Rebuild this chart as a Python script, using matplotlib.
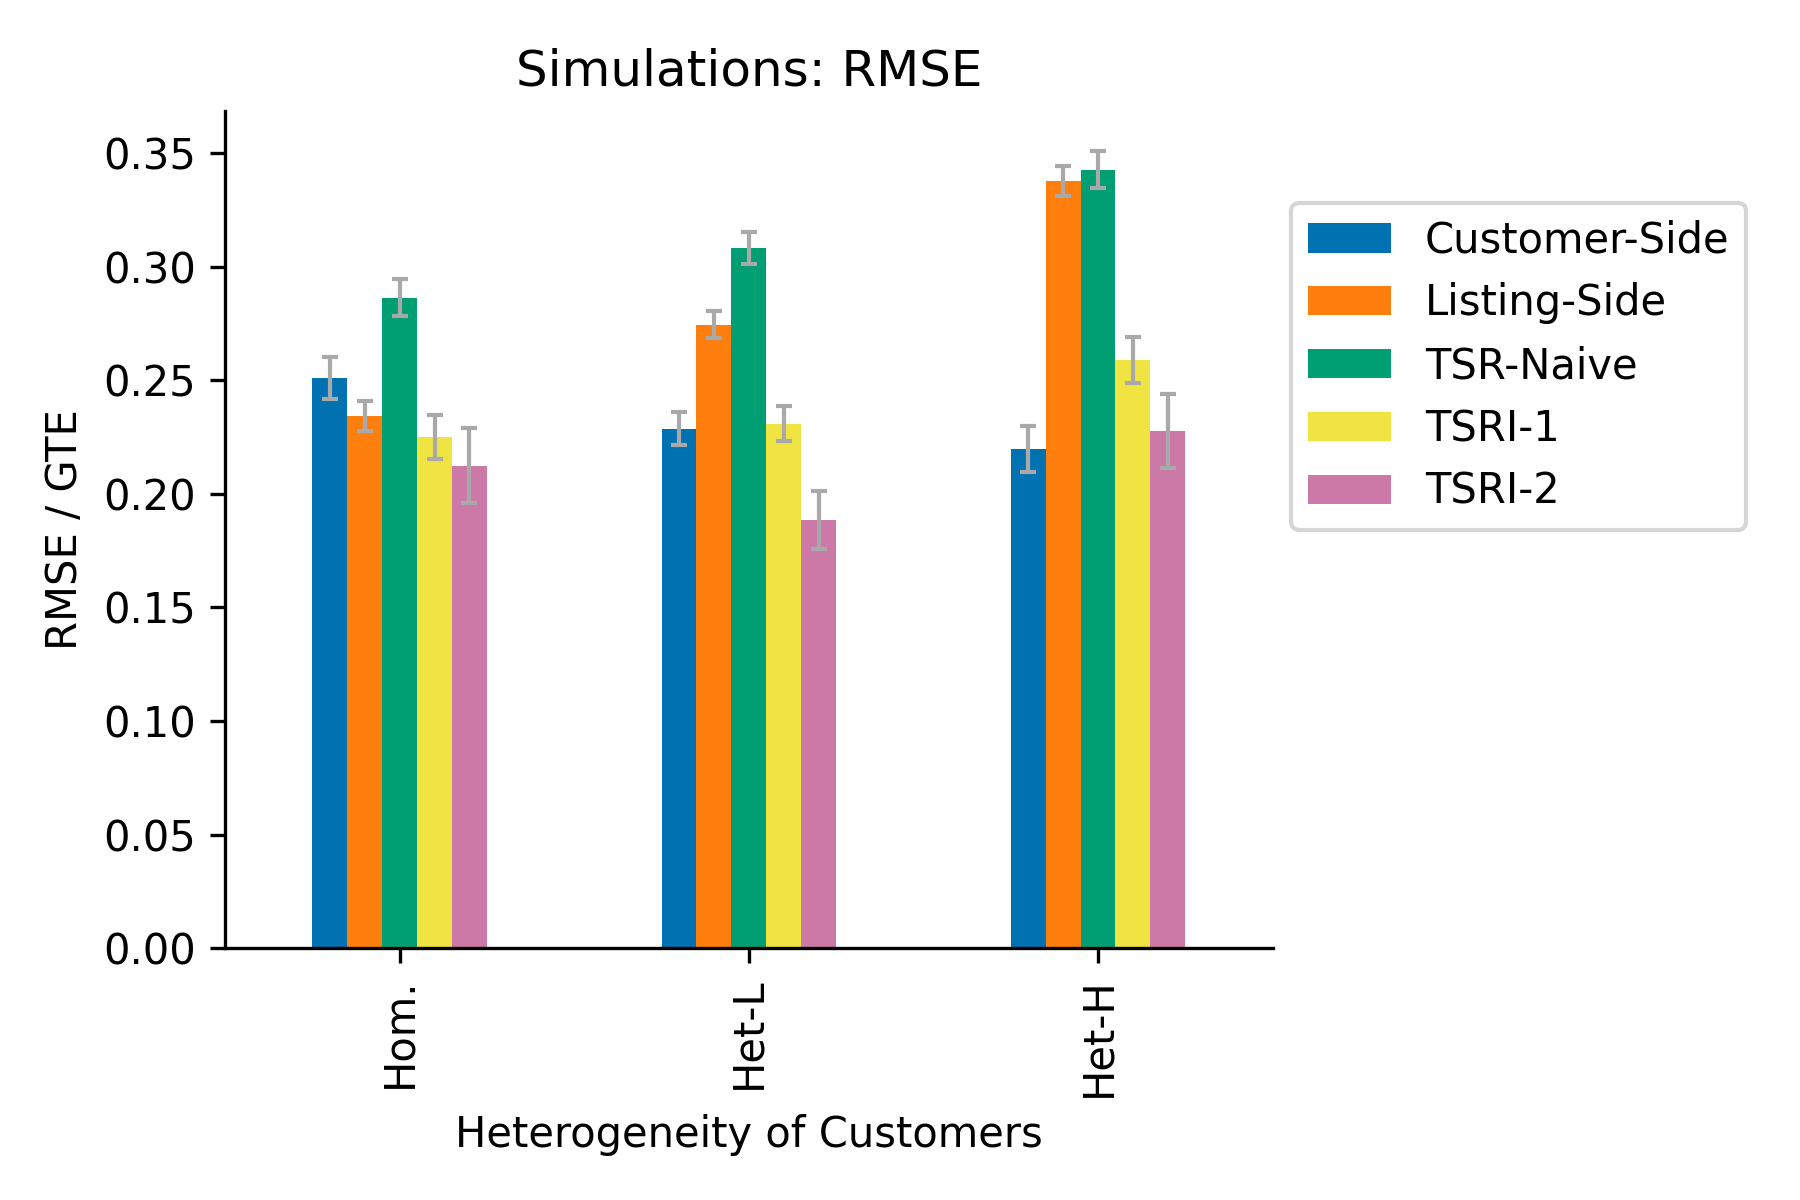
import matplotlib
matplotlib.use("Agg")
import matplotlib.pyplot as plt
import numpy as np

categories = ["Hom.", "Het-L", "Het-H"]
methods = ["Customer-Side", "Listing-Side", "TSR-Naive", "TSRI-1", "TSRI-2"]
colors = ["#0072B2", "#FF7F0E", "#009E73", "#F0E442", "#CC79A7"]

values = {
    "Customer-Side": [0.2511, 0.2287, 0.2198],
    "Listing-Side":  [0.2343, 0.2745, 0.3378],
    "TSR-Naive":     [0.2863, 0.3084, 0.3427],
    "TSRI-1":        [0.2251, 0.2309, 0.2590],
    "TSRI-2":        [0.2123, 0.1886, 0.2278],
}
errors = {
    "Customer-Side": [0.0093, 0.0073, 0.0100],
    "Listing-Side":  [0.0064, 0.0060, 0.0066],
    "TSR-Naive":     [0.0082, 0.0071, 0.0082],
    "TSRI-1":        [0.0097, 0.0077, 0.0101],
    "TSRI-2":        [0.0165, 0.0128, 0.0163],
}

plt.rcParams["font.family"] = ["DejaVu Sans"]
fig = plt.figure(figsize=(6, 4), dpi=300)
ax = fig.add_axes([0.125, 0.2098, 0.582, 0.6978])

x = np.arange(len(categories))
width = 0.5 / len(methods)
for i, m in enumerate(methods):
    pos = x - 0.25 + width * (i + 0.5)
    ax.bar(pos, values[m], width, color=colors[i], label=m,
           yerr=errors[m], error_kw=dict(ecolor="#a9a9a9", elinewidth=1,
                                         capsize=2, capthick=1))

ax.set_xlim(-0.5, 2.5)
ax.set_ylim(0, 0.3686)
ax.set_xticks(x)
ax.set_xticklabels(categories, rotation=90)
ax.set_yticks(np.arange(0, 0.351, 0.05))
ax.tick_params(labelsize=10)
ax.set_xlabel("Heterogeneity of Customers", fontsize=10)
ax.set_ylabel("RMSE / GTE", fontsize=10)
ax.set_title("Simulations: RMSE", fontsize=12)
ax.spines["top"].set_visible(False)
ax.spines["right"].set_visible(False)

ax.legend(loc="upper left", bbox_to_anchor=(1.018, 0.89), borderaxespad=0,
          fontsize=10)

fig.savefig("out.png", dpi=300)
